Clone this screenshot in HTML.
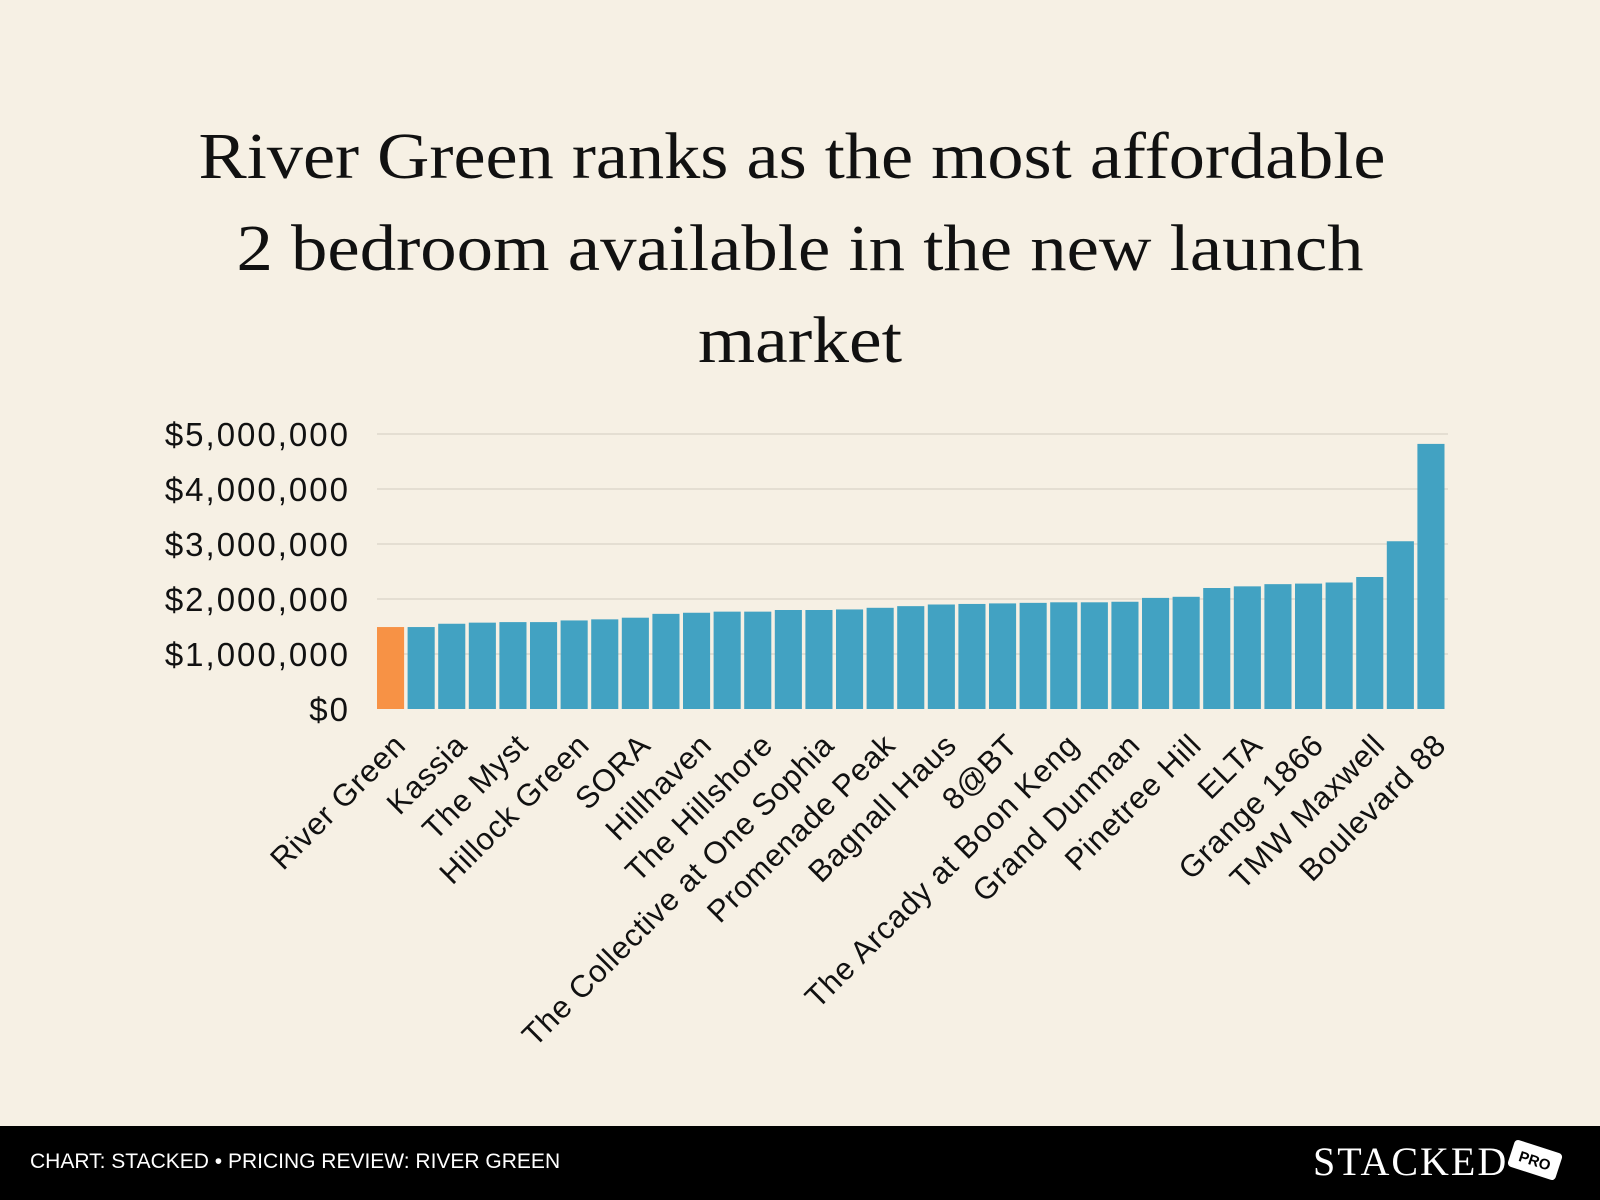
<!DOCTYPE html>
<html><head><meta charset="utf-8">
<style>
html,body{margin:0;padding:0;background:#f6f0e4;}
svg{display:block;}
</style></head>
<body>
<svg id="chart" width="1600" height="1200" viewBox="0 0 1600 1200" xmlns="http://www.w3.org/2000/svg">
  <rect x="0" y="0" width="1600" height="1200" fill="#f6f0e4"/>
  <g font-family="'Liberation Serif', serif" font-size="66" fill="#111" text-anchor="middle">
    <text x="792" y="178" textLength="1187" lengthAdjust="spacingAndGlyphs">River Green ranks as the most affordable</text>
    <text x="800" y="270" textLength="1127" lengthAdjust="spacingAndGlyphs">2 bedroom available in the new launch</text>
    <text x="800" y="362" textLength="204" lengthAdjust="spacingAndGlyphs">market</text>
  </g>
  <g id="grid"></g>
  <g id="yticks"></g>
  <g id="bars"></g>
  <g id="xlabels"></g>
  <rect x="0" y="1126" width="1600" height="74" fill="#000"/>
  <text x="30" y="1168" font-family="'Liberation Sans', sans-serif" font-size="21" fill="#fff">CHART: STACKED • PRICING REVIEW: RIVER GREEN</text>
  <text x="1313" y="1175" font-family="'Liberation Serif', serif" font-size="40" fill="#fff" letter-spacing="2">STACKED</text>
  <g transform="translate(1535,1160) rotate(18)">
    <rect x="-25" y="-14" width="50" height="28" rx="4" fill="#fff"/>
    <text x="0" y="6" text-anchor="middle" font-family="'Liberation Sans', sans-serif" font-weight="bold" font-size="15" fill="#000">PRO</text>
  </g>
</svg>
<script>
const categories = ["River Green","","Kassia","","The Myst","","Hillock Green","","SORA","","Hillhaven","","The Hillshore","","The Collective at One Sophia","","Promenade Peak","","Bagnall Haus","","8@BT","","The Arcady at Boon Keng","","Grand Dunman","","Pinetree Hill","","ELTA","","Grange 1866","","TMW Maxwell","","Boulevard 88"];
const prices = [1490000,1490000,1550000,1570000,1580000,1580000,1610000,1630000,1660000,1730000,1750000,1770000,1770000,1800000,1800000,1810000,1840000,1870000,1900000,1910000,1920000,1930000,1940000,1940000,1950000,2020000,2040000,2200000,2230000,2270000,2280000,2300000,2400000,3050000,4820000];
const highlightIndex = [0];
const yTicks = [0,1000000,2000000,3000000,4000000,5000000];
const yTickLabels = ["$0","$1,000,000","$2,000,000","$3,000,000","$4,000,000","$5,000,000"];

const NS = "http://www.w3.org/2000/svg";
const plotL = 377, plotR = 1448, baseY = 709, topY = 434, yMax = 5000000;
const y = v => baseY - (v / yMax) * (baseY - topY);
const step = (plotR - plotL) / prices.length;
const x = i => plotL + i * step;
const barW = step - 3.5;

const grid = document.getElementById('grid');
const yt = document.getElementById('yticks');
yTicks.forEach((t, k) => {
  if (t > 0) {
    const l = document.createElementNS(NS, 'line');
    
    
    l.setAttribute('x1', plotL); l.setAttribute('x2', plotR);
    l.setAttribute('y1', y(t)); l.setAttribute('y2', y(t));
    l.setAttribute('stroke', '#d9d3c6'); l.setAttribute('stroke-width', '1.2');
    grid.appendChild(l);
  }
  const tx = document.createElementNS(NS, 'text');
  
  
  tx.setAttribute('x', 350); tx.setAttribute('y', y(t) + 12);
  tx.setAttribute('text-anchor', 'end');
  tx.setAttribute('font-family', "'Liberation Sans', sans-serif");
  tx.setAttribute('font-size', '33');
  tx.setAttribute('letter-spacing', '2');
  tx.setAttribute('fill', '#111');
  tx.textContent = yTickLabels[k];
  yt.appendChild(tx);
});

const bars = document.getElementById('bars');
const xl = document.getElementById('xlabels');
prices.forEach((v, i) => {
  const r = document.createElementNS(NS, 'rect');
  
  
  r.setAttribute('x', x(i)); r.setAttribute('y', y(v));
  r.setAttribute('width', barW); r.setAttribute('height', baseY - y(v));
  r.setAttribute('fill', highlightIndex.includes(i) ? '#f79245' : '#42a2c2');
  bars.appendChild(r);
  if (categories[i]) {
    const cx = x(i) + barW / 2 + 17, cy = baseY + 38;
    const t = document.createElementNS(NS, 'text');
    
    
    t.setAttribute('x', cx); t.setAttribute('y', cy);
    t.setAttribute('text-anchor', 'end');
    t.setAttribute('transform', 'rotate(-45 ' + cx + ' ' + cy + ')');
    t.setAttribute('font-family', "'Liberation Sans', sans-serif");
    t.setAttribute('font-size', '31');
    t.setAttribute('letter-spacing', '0.8');
    t.setAttribute('fill', '#111');
    t.textContent = categories[i];
    xl.appendChild(t);
  }
});
</script>
</body></html>
